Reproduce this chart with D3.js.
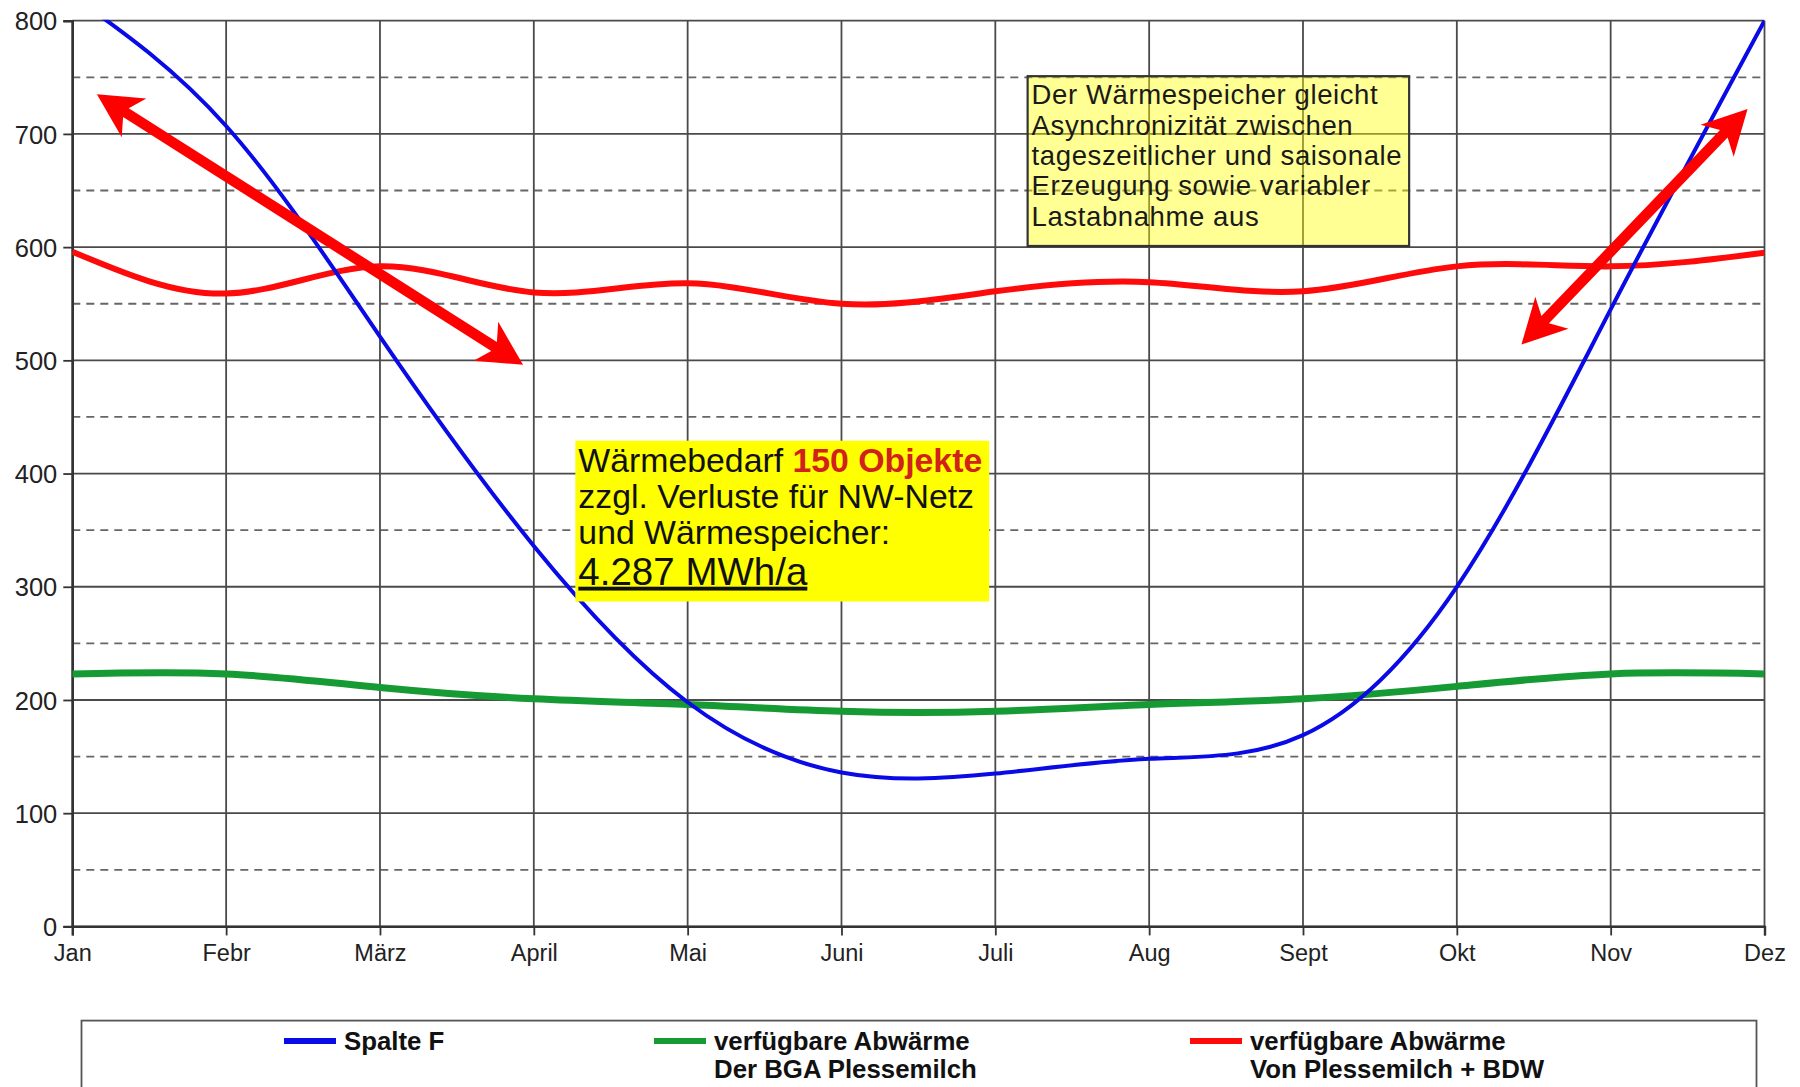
<!DOCTYPE html>
<html>
<head>
<meta charset="utf-8">
<script src="https://cdn.jsdelivr.net/npm/d3@7"></script>
<style>
  body { margin: 0; background: #fff; }
  svg { font-family: "Liberation Sans", Arial, sans-serif; }
</style>
</head>
<body>
<div id="chart"></div>
<script>
// data
const months = ["Jan", "Febr", "März", "April", "Mai", "Juni", "Juli", "Aug", "Sept", "Okt", "Nov", "Dez"];
const spalteF = [822, 707, 521, 336, 198, 136, 135, 148, 169, 300, 545, 800];
const abwaermeBGA = [223, 223, 211, 201, 196, 190, 190, 196, 201, 212, 223, 223];
const abwaermeBDW = [596, 559, 583, 560, 568, 550, 561, 569, 561, 583, 583, 595];
const yTicks = [0, 100, 200, 300, 400, 500, 600, 700, 800];
const yHalfTicks = [50, 150, 250, 350, 450, 550, 650, 750];

// arrows: [monthIndex, value] pairs
const arrows = [
  [[0.16, 735], [2.93, 496]],
  [[9.42, 514], [10.89, 722]]
];

const noteLines = [
  "Der Wärmespeicher gleicht",
  "Asynchronizität zwischen",
  "tageszeitlicher und saisonale",
  "Erzeugung sowie variabler",
  "Lastabnahme aus"
];
const noteBox = {m0: 6.21, m1: 8.69, v0: 751, v1: 601};
const demandBox = {m0: 3.27, m1: 5.96, v0: 429, v1: 287};

const series = [
  {name: ["Spalte F"], values: spalteF, color: "#0a0ae6", width: 4, lx: 284},
  {name: ["verfügbare Abwärme", "Der BGA Plessemilch"], values: abwaermeBGA, color: "#169a33", width: 7, lx: 654},
  {name: ["verfügbare Abwärme", "Von Plessemilch + BDW"], values: abwaermeBDW, color: "#ff0a0a", width: 6, lx: 1190}
];

const width = 1800, height = 1087;
const plotLeft = 72.3, plotRight = 1764.5, plotTop = 20.7, plotBottom = 926.4;

const svg = d3.select("#chart").append("svg")
    .attr("width", width)
    .attr("height", height);

const x = d3.scaleLinear().domain([0, 11]).range([plotLeft, plotRight]);
const y = d3.scaleLinear().domain([0, 800]).range([plotBottom, plotTop]);

// grid
const grid = svg.append("g");
grid.selectAll(".hminor").data(yHalfTicks).join("line")
    .attr("x1", plotLeft).attr("x2", plotRight)
    .attr("y1", d => y(d)).attr("y2", d => y(d))
    .attr("stroke", "#666").attr("stroke-width", 1.8)
    .attr("stroke-dasharray", "8,6");
grid.selectAll(".hmajor").data(yTicks).join("line")
    .attr("x1", plotLeft).attr("x2", plotRight)
    .attr("y1", d => y(d)).attr("y2", d => y(d))
    .attr("stroke", "#4a4a4a").attr("stroke-width", 1.8);
grid.selectAll(".vmajor").data(d3.range(months.length)).join("line")
    .attr("x1", d => x(d)).attr("x2", d => x(d))
    .attr("y1", plotTop).attr("y2", plotBottom)
    .attr("stroke", "#4a4a4a").attr("stroke-width", 1.8);

// axes
const xAxis = d3.axisBottom(x)
    .tickValues(d3.range(months.length))
    .tickFormat(i => months[i])
    .tickSize(9).tickPadding(9);
const yAxis = d3.axisLeft(y)
    .tickValues(yTicks)
    .tickSize(9).tickPadding(6);

const gx = svg.append("g")
    .attr("transform", "translate(0," + plotBottom + ")")
    .call(xAxis);
const gy = svg.append("g")
    .attr("transform", "translate(" + plotLeft + ",0)")
    .call(yAxis);

[gx, gy].forEach(g => {
  g.select(".domain").attr("stroke", "#333").attr("stroke-width", 2.4);
  g.selectAll(".tick line").attr("stroke", "#333").attr("stroke-width", 1.8);
  g.selectAll("text").attr("fill", "#222")
      .style("font-family", "'Liberation Sans', Arial, sans-serif");
});
gx.selectAll("text").style("font-size", "23.5px");
gy.selectAll("text").style("font-size", "25.5px").attr("dy", "0.36em");

// clip for series
svg.append("defs").append("clipPath").attr("id", "plotclip")
  .append("rect")
    .attr("x", plotLeft).attr("y", plotTop - 1)
    .attr("width", plotRight - plotLeft).attr("height", plotBottom - plotTop + 1);

const line = d3.line()
    .x((d, i) => x(i))
    .y(d => y(d))
    .curve(d3.curveNatural);

const lines = svg.append("g").attr("clip-path", "url(#plotclip)");
// draw order: red, green, blue
[series[2], series[1], series[0]].forEach(s => {
  lines.append("path")
      .attr("d", line(s.values))
      .attr("fill", "none")
      .attr("stroke", s.color)
      .attr("stroke-width", s.width)
      .attr("stroke-linejoin", "round");
});

// demand box
const db = svg.append("g");
db.append("rect")
    .attr("x", x(demandBox.m0)).attr("y", y(demandBox.v0))
    .attr("width", x(demandBox.m1) - x(demandBox.m0))
    .attr("height", y(demandBox.v1) - y(demandBox.v0))
    .attr("fill", "#ffff00");
const dbx = x(demandBox.m0) + 3;
const dby = y(demandBox.v0);
const t1 = db.append("text").attr("x", dbx).attr("y", dby + 31)
    .style("font-size", "33.8px").attr("fill", "#111");
t1.append("tspan").text("Wärmebedarf ");
t1.append("tspan").text("150 Objekte").attr("fill", "#d0221b").attr("font-weight", "bold");
db.append("text").attr("x", dbx).attr("y", dby + 67)
    .style("font-size", "33.8px").attr("fill", "#111").text("zzgl. Verluste für NW-Netz");
db.append("text").attr("x", dbx).attr("y", dby + 103)
    .style("font-size", "33.8px").attr("fill", "#111").text("und Wärmespeicher:");
db.append("text").attr("x", dbx).attr("y", dby + 144)
    .style("font-size", "38.5px").attr("fill", "#111")
    .attr("text-decoration", "underline").text("4.287 MWh/a");

// note box (semi transparent yellow)
const nb = svg.append("g");
nb.append("rect")
    .attr("x", x(noteBox.m0)).attr("y", y(noteBox.v0))
    .attr("width", x(noteBox.m1) - x(noteBox.m0))
    .attr("height", y(noteBox.v1) - y(noteBox.v0))
    .attr("fill", "#ffff00").attr("fill-opacity", 0.42)
    .attr("stroke", "#333").attr("stroke-width", 2.2);
nb.selectAll("text").data(noteLines).join("text")
    .attr("x", x(noteBox.m0) + 4)
    .attr("y", (d, i) => y(noteBox.v0) + 28 + i * 30.4)
    .style("font-size", "27.5px")
    .attr("letter-spacing", "0.6px")
    .attr("fill", "#1a1a1a")
    .text(d => d);

// double-headed arrows (swept heads)
function arrowPoints(p0, p1, w, L, H, notch) {
  const dx = p1[0] - p0[0], dy = p1[1] - p0[1];
  const len = Math.hypot(dx, dy);
  const u = [dx / len, dy / len], n = [-u[1], u[0]];
  const at = (p, a, k) => [p[0] + u[0] * a + n[0] * k, p[1] + u[1] * a + n[1] * k];
  const Lin = L * notch;
  return [p0, at(p0, L, H / 2), at(p0, Lin, w / 2), at(p1, -Lin, w / 2), at(p1, -L, H / 2), p1,
          at(p1, -L, -H / 2), at(p1, -Lin, -w / 2), at(p0, Lin, -w / 2), at(p0, L, -H / 2)];
}
svg.append("g").selectAll("polygon").data(arrows).join("polygon")
    .attr("points", d => arrowPoints(
        [x(d[0][0]), y(d[0][1])], [x(d[1][0]), y(d[1][1])], 10.5, 44, 46, 0.78).join(" "))
    .attr("fill", "#ff0000");

// legend
const lg = svg.append("g");
lg.append("rect")
    .attr("x", 81.5).attr("y", 1020.6)
    .attr("width", 1675).attr("height", 120)
    .attr("fill", "none").attr("stroke", "#555").attr("stroke-width", 1.8);
series.forEach(s => {
  const item = lg.append("g").attr("transform", "translate(" + s.lx + ",1041)");
  item.append("line")
      .attr("x1", 0).attr("x2", 52).attr("y1", 0).attr("y2", 0)
      .attr("stroke", s.color).attr("stroke-width", 6);
  item.selectAll("text").data(s.name).join("text")
      .attr("x", 60)
      .attr("y", (d, i) => 9 + i * 28)
      .style("font-size", "25.8px")
      .attr("font-weight", "bold")
      .attr("fill", "#111")
      .text(d => d);
});
</script>
</body>
</html>
